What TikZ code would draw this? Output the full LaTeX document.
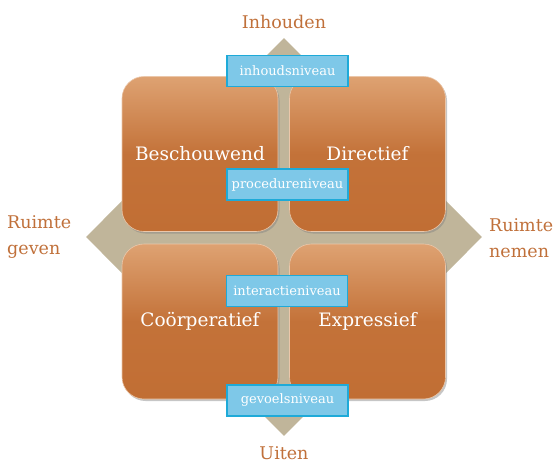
\documentclass[tikz,border=0pt]{standalone}
\usepackage{fontspec}
\setmainfont{DejaVu Serif}
\usetikzlibrary{shapes.geometric, shadows, positioning}
\definecolor{boxLight}{RGB}{222,162,114}
\definecolor{boxDark}{RGB}{193,110,52}
\definecolor{axisBeige}{RGB}{192,181,154}
\definecolor{levelBlue}{RGB}{126,200,232}
\definecolor{levelEdge}{RGB}{30,170,216}
\definecolor{labelOrange}{RGB}{192,112,58}

\begin{document}
\begin{tikzpicture}[
    x=1pt, y=-1pt,
    quad/.style={rectangle, rounded corners=22pt, minimum width=156pt, minimum height=155pt,
        top color=boxLight, bottom color=boxDark, middle color=boxDark!92!boxLight,
        draw=boxLight!60!white, line width=0.6pt,
        drop shadow={shadow xshift=1.5pt, shadow yshift=-2pt, opacity=0.45},
        text=white, font=\fontsize{18.5}{22}\selectfont},
    level/.style={rectangle, draw=levelEdge, fill=levelBlue, line width=1.2pt,
        minimum width=121pt, minimum height=31pt, inner sep=0pt,
        text=white, font=\fontsize{13}{16}\selectfont},
    axislabel/.style={text=labelOrange, font=\fontsize{17.5}{26}\selectfont, align=left, inner sep=1pt}
]
\useasboundingbox (0,0) rectangle (558,464);

% Background cross
\node[diamond, fill=axisBeige, inner sep=0pt, minimum width=396pt, minimum height=398pt] (axes) at (284,237) {};

% Quadrants
\node[quad] (besch) at (200,154) {Beschouwend};
\node[quad] (direc) at (367.5,154) {Directief};
\node[quad] (coop) at (200,321.5) {Coörperatief};
\node[quad] (expr) at (367.5,321.5) {Expressief};

% Levels
\node[level] (inhoud) at (287.5,71) {inhoudsniveau};
\node[level] (proced) at (287.5,184.5) {procedureniveau};
\node[level] (interact) at (287,291) {interactieniveau};
\node[level] (gevoel) at (287.5,400.5) {gevoelsniveau};

% Axis labels
\node[axislabel] (top) at (284,22) {Inhouden};
\node[axislabel] (bottom) at (284,453) {Uiten};
\node[axislabel, anchor=west] (left) at (6,237) {Ruimte\\geven};
\node[axislabel, anchor=west] (right) at (488,238) {Ruimte\\nemen};

\end{tikzpicture}
\end{document}
